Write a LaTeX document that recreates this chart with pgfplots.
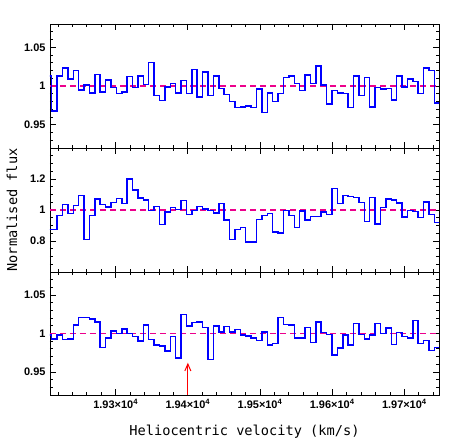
\documentclass[border=0pt]{standalone}
\usepackage{fontspec}
\setmainfont{DejaVu Sans Mono}
\newfontfamily\tickfont{Liberation Sans}
\usepackage{pgfplots}
\pgfplotsset{compat=1.18}
\usepackage{pgfplotstable}
\usetikzlibrary{arrows.meta}

% bin left edges (km/s) and normalised flux of the three panels
\pgfplotstableread{
x        top   mid   bot
19204.0  1.013 0.875 0.998
19211.4  0.968 0.875 0.993
19218.9  1.013 0.965 0.998
19226.3  1.023 1.035 0.992
19233.8  1.009 0.978 0.993
19241.3  1.020 1.028 1.011
19248.7  0.995 1.093 1.021
19256.2  1.001 0.810 1.021
19263.7  0.991 0.965 1.019
19271.1  1.015 1.071 1.015
19278.6  0.992 1.035 0.982
19286.1  1.008 1.019 0.994
19293.5  0.998 1.048 1.003
19301.0  0.990 1.074 1.000
19308.5  0.992 1.041 1.006
19316.0  1.012 1.199 1.000
19323.4  0.998 1.130 0.996
19330.9  1.013 1.078 0.990
19338.4  1.002 1.063 1.011
19345.8  1.030 0.996 0.992
19353.3  0.988 1.022 0.985
19360.8  0.981 0.905 0.984
19368.2  0.999 0.987 0.977
19375.7  1.003 1.015 0.996
19383.2  0.991 1.004 0.968
19390.6  1.007 1.061 1.025
19398.1  0.990 0.970 1.010
19405.6  1.021 0.996 1.014
19413.0  0.986 1.022 1.015
19420.5  1.018 1.006 1.008
19428.0  0.988 0.998 0.966
19435.4  1.013 0.981 1.010
19442.9  0.997 1.043 1.002
19450.4  0.989 0.935 1.009
19457.8  0.980 0.810 1.002
19465.3  0.972 0.875 1.005
19472.8  0.973 0.888 0.998
19480.2  0.974 0.792 0.997
19487.7  0.972 0.792 0.994
19495.2  0.996 0.939 0.991
19502.7  0.966 0.965 1.002
19510.1  0.991 0.978 0.985
19517.6  0.980 0.859 0.987
19525.1  0.990 0.851 1.021
19532.5  1.011 0.996 1.012
19540.0  1.013 0.965 1.011
19547.5  1.003 0.888 0.994
19554.9  0.994 0.994 0.994
19562.4  1.014 0.935 1.008
19569.9  1.003 0.957 0.988
19577.3  1.026 0.959 1.015
19584.8  1.001 0.987 1.001
19592.3  0.977 0.970 0.999
19599.7  0.994 1.138 0.972
19607.2  0.991 1.043 0.981
19614.7  0.990 1.093 0.998
19622.1  0.972 1.086 0.985
19629.6  1.013 1.080 1.013
19637.1  0.988 1.048 0.999
19644.5  1.011 0.926 0.993
19652.0  0.973 1.080 0.998
19659.5  0.998 0.909 1.013
19667.0  0.996 1.015 1.000
19674.4  0.997 1.071 1.007
19681.9  0.982 1.065 0.986
19689.4  1.013 1.045 1.001
19696.8  0.999 0.955 0.996
19704.3  1.009 0.996 0.994
19711.8  1.006 0.991 1.017
19719.2  0.990 0.950 0.987
19726.7  1.023 1.050 0.991
19734.2  1.020 0.970 0.978
19741.6  0.978 0.920 0.982
19749.1  0.978 0.920 0.982
}\spec

\pgfplotsset{
  panel/.style={
    scale only axis, width=389bp,
    xmin=19209, xmax=19748,
    axis line style={line width=0.8pt},
    tick style={black, line width=0.8pt},
    tick align=inside,
    major tick length=6bp, minor tick length=3bp,
    xtick={19300,19400,19500,19600,19700},
    minor xtick={19220,19240,...,19740},
    scaled x ticks=false,
    xticklabels={,,,,},
    ticklabel style={font=\tickfont\bfseries\fontsize{11}{13}\selectfont},
    yticklabel style={xshift=-1bp},
  },
  narrow/.style={
    ymin=0.92, ymax=1.08,
    ytick={0.95,1,1.05}, yticklabels={0.95,1,1.05},
    minor ytick={0.93,0.94,0.96,0.97,0.98,0.99,1.01,1.02,1.03,1.04,1.06,1.07},
  },
  spec/.style={blue, line width=1.5bp, const plot, no marks},
  unity/.style={magenta, line width=1.1bp, dash pattern=on 6bp off 4bp, no marks},
}

\begin{document}
\begin{tikzpicture}
\path[use as bounding box] (-50bp,-48bp) rectangle (414bp,395bp);

% top panel
\begin{axis}[panel, narrow, height=124bp, at={(0,247bp)}, anchor=south west]
\addplot[unity] coordinates {(19209,1) (19748,1)};
\addplot[spec] table[x=x, y=top] {\spec};
\end{axis}

% middle panel
\begin{axis}[panel, height=124bp, at={(0,123bp)}, anchor=south west,
  ymin=0.6, ymax=1.4,
  ytick={0.8,1,1.2}, yticklabels={0.8,1,1.2},
  minor ytick={0.65,0.7,0.75,0.85,0.9,0.95,1.05,1.1,1.15,1.25,1.3,1.35},
  ylabel={Normalised flux},
  ylabel style={at={(axis description cs:-0.0977,0.5)}, anchor=center,
    font=\fontsize{13.7}{16}\selectfont},
]
\addplot[unity] coordinates {(19209,1) (19748,1)};
\addplot[spec] table[x=x, y=mid] {\spec};
\end{axis}

% bottom panel
\begin{axis}[panel, narrow, height=123bp, at={(0,0)}, anchor=south west,
  xticklabels={1.93×10\textsuperscript{4},1.94×10\textsuperscript{4},1.95×10\textsuperscript{4},1.96×10\textsuperscript{4},1.97×10\textsuperscript{4}},
  xticklabel style={yshift=-1bp},
  xlabel={Heliocentric velocity (km/s)},
  xlabel style={at={(axis description cs:0.5,0)}, anchor=center, yshift=-37bp,
    font=\fontsize{13.7}{16}\selectfont},
]
\addplot[unity] coordinates {(19209,1) (19748,1)};
\addplot[spec] table[x=x, y=bot] {\spec};
\addplot[red, line width=1bp, -{Straight Barb[length=7bp, width=6bp]}] coordinates {(19400,0.92) (19400,0.962)};
\end{axis}
\end{tikzpicture}
\end{document}
